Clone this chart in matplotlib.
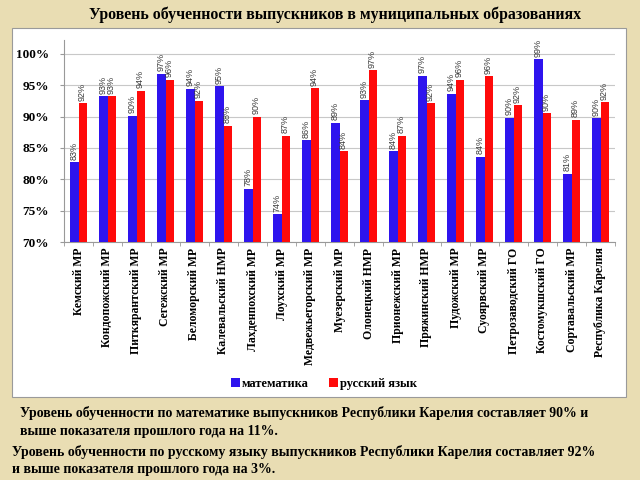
import matplotlib
matplotlib.use("Agg")
import matplotlib.pyplot as plt
import numpy as np
from matplotlib.patches import Rectangle

categories = ["Кемский МР", "Кондопожский МР", "Питкярантский МР", "Сегежский МР",
              "Беломорский МР", "Калевальский НМР", "Лахденпохский МР", "Лоухский МР",
              "Медвежьегорский МР", "Муезерский МР", "Олонецкий НМР", "Прионежский МР",
              "Пряжинский НМР", "Пудожский МР", "Суоярвский МР", "Петрозаводский ГО",
              "Костомукшский ГО", "Сортавальский МР", "Республика Карелия"]
math_vals = [82.7, 93.2, 90.1, 96.8, 94.4, 94.8, 78.5, 74.4, 86.2, 89.0,
             92.6, 84.5, 96.5, 93.6, 83.6, 89.8, 99.1, 80.9, 89.7]
rus_vals = [92.1, 93.2, 94.1, 95.9, 92.5, 88.5, 90.0, 86.9, 94.5, 84.5,
            97.4, 86.9, 92.1, 95.9, 96.4, 91.8, 90.5, 89.5, 92.3]
math_labels = [83, 93, 90, 97, 94, 95, 78, 74, 86, 89, 93, 84, 97, 94, 84, 90, 99, 81, 90]
rus_labels = [92, 93, 94, 96, 92, 88, 90, 87, 94, 84, 97, 87, 92, 96, 96, 92, 90, 89, 92]
yticks = [70, 75, 80, 85, 90, 95, 100]
series_names = ["математика", "русский язык"]

title = "Уровень обученности выпускников в муниципальных образованиях"
note1 = ["Уровень обученности по математике выпускников Республики Карелия составляет 90% и",
         "выше показателя прошлого года на 11%."]
note2 = ["Уровень обученности по русскому языку выпускников Республики Карелия составляет 92%",
         "и выше показателя прошлого года на 3%."]

BLUE = "#2E14EE"
RED = "#FF0A0A"
BEIGE = "#E9DDB3"

fig = plt.figure(figsize=(6.4, 4.8), dpi=100)
fig.patch.set_facecolor(BEIGE)

# white chart panel
panel = Rectangle((12 / 640, 1 - 397 / 480), (626 - 12) / 640, (397 - 28) / 480,
                  transform=fig.transFigure, facecolor="white", edgecolor="#9A9A9A",
                  linewidth=0.8, zorder=-5)
fig.patches.append(panel)

ax = fig.add_axes([64 / 640, 1 - 242 / 480, (615 - 64) / 640, (242 - 40) / 480])
ax.set_zorder(5)
ax.set_facecolor("none")
x = np.arange(len(categories))
w = 0.28
b1 = ax.bar(x - w / 2, [v - 70 for v in math_vals], w, bottom=70, color=BLUE, zorder=3,
            label=series_names[0])
b2 = ax.bar(x + w / 2, [v - 70 for v in rus_vals], w, bottom=70, color=RED, zorder=3,
            label=series_names[1])

for xi, v, lab in zip(x - w / 2, math_vals, math_labels):
    ax.text(xi, v + 0.4, f"{lab}%", rotation=90, ha="center", va="bottom",
            fontsize=6.5, family="Liberation Sans", color="#3A3A3A", clip_on=False)
for xi, v, lab in zip(x + w / 2, rus_vals, rus_labels):
    ax.text(xi, v + 0.4, f"{lab}%", rotation=90, ha="center", va="bottom",
            fontsize=6.5, family="Liberation Sans", color="#3A3A3A", clip_on=False)

ax.set_ylim(70, 102.2)
ax.set_xlim(-0.5, len(categories) - 0.5)
ax.set_yticks(yticks)
ax.set_yticklabels([f"{t}%" for t in yticks], family="Liberation Serif",
                   fontweight="bold", fontsize=9.5)
ax.yaxis.grid(True, color="#C8C8C8", linewidth=0.8, zorder=0)
ax.set_axisbelow(True)
ax.set_xticks(x)
ax.set_xticklabels(categories, rotation=90, family="Liberation Serif",
                   fontweight="bold", fontsize=8.5, va="top", ha="center")
ax.set_xticks(np.arange(-0.5, len(categories), 1), minor=True)
ax.tick_params(axis="x", which="major", length=0, pad=4)
ax.tick_params(axis="x", which="minor", length=3, color="#999999")
ax.tick_params(axis="y", length=3, color="#999999", pad=8)
for s in ["top", "right"]:
    ax.spines[s].set_visible(False)
for s in ["left", "bottom"]:
    ax.spines[s].set_color("#999999")
    ax.spines[s].set_linewidth(0.8)

leg = fig.legend(handles=[b1, b2], labels=series_names, loc="center",
                 bbox_to_anchor=(324 / 640, 1 - 384 / 480), ncol=2, frameon=False,
                 handlelength=0.7, handleheight=0.7, handletextpad=0.2, columnspacing=1.6,
                 prop={"family": "Liberation Serif", "weight": "bold", "size": 9})

fig.text(335 / 640, 1 - 15 / 480, title, ha="center", va="center",
         family="Liberation Serif", fontweight="bold", fontsize=11.4)

fs = 10
fig.text(20 / 640, 1 - 413 / 480, note1[0], ha="left", va="center",
         family="Liberation Serif", fontweight="bold", fontsize=fs)
fig.text(20 / 640, 1 - 431 / 480, note1[1], ha="left", va="center",
         family="Liberation Serif", fontweight="bold", fontsize=fs)
fig.text(12 / 640, 1 - 452 / 480, note2[0], ha="left", va="center",
         family="Liberation Serif", fontweight="bold", fontsize=fs)
fig.text(12 / 640, 1 - 469 / 480, note2[1], ha="left", va="center",
         family="Liberation Serif", fontweight="bold", fontsize=fs)

fig.savefig("out.png", dpi=100, facecolor=fig.get_facecolor())
